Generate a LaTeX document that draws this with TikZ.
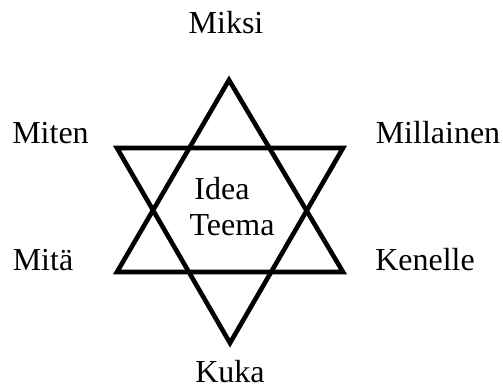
\documentclass[tikz,border=0pt]{standalone}
\usepackage{fontspec}
\setmainfont{Liberation Serif}
\begin{document}
\begin{tikzpicture}[x=1pt,y=-1pt,
  lbl/.style={anchor=base,inner sep=0pt,font=\fontsize{32}{36}\selectfont},
  starline/.style={line width=4.6pt,line join=miter,black}]
\useasboundingbox (0,0) rectangle (503,388);
% vertices
\coordinate (ut) at (229,80);
\coordinate (ul) at (117,272);
\coordinate (ur) at (343,272);
\coordinate (dl) at (117,148);
\coordinate (dr) at (343,148);
\coordinate (db) at (230,343);
\draw[starline] (ut) -- (ul) -- (ur) -- cycle;
\draw[starline] (dl) -- (dr) -- (db) -- cycle;
% labels
\node[lbl] (miksi) at (226,33) {Miksi};
\node[lbl] (miten) at (50.5,143) {Miten};
\node[lbl] (millainen) at (438,143) {Millainen};
\node[lbl] (mita) at (43,270) {Mitä};
\node[lbl] (kenelle) at (425,270) {Kenelle};
\node[lbl] (idea) at (222,199) {Idea};
\node[lbl] (teema) at (232,235) {Teema};
\node[lbl] (kuka) at (230,382) {Kuka};
\end{tikzpicture}
\end{document}
